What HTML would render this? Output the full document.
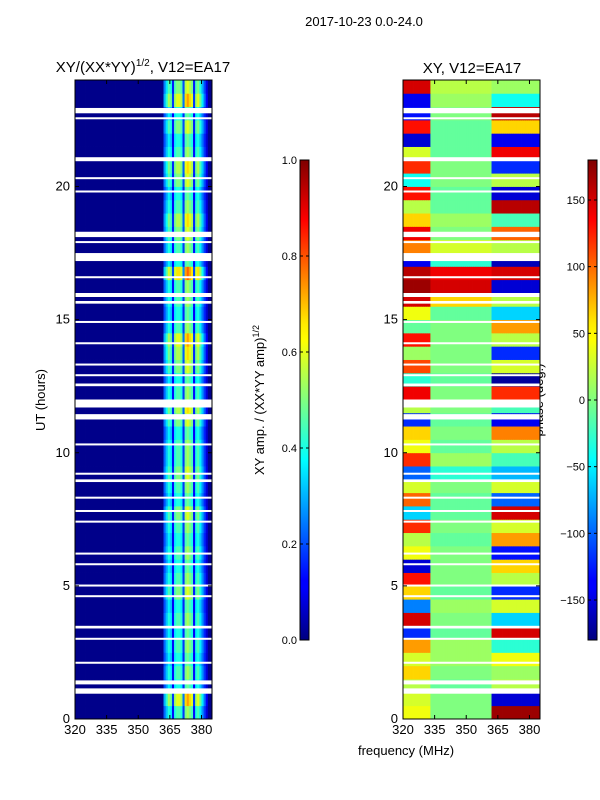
<!DOCTYPE html>
<html><head><meta charset="utf-8"><style>
body{margin:0;background:#fff;}
svg{display:block;font-family:"Liberation Sans",sans-serif;}
</style></head><body>
<svg id="fig" width="600" height="800" viewBox="0 0 600 800">
<defs>
<linearGradient id="jet" x1="0" y1="1" x2="0" y2="0">
<stop offset="0" stop-color="#00007f"/><stop offset="0.11" stop-color="#0000ff"/><stop offset="0.125" stop-color="#0000ff"/>
<stop offset="0.34" stop-color="#00dcff"/><stop offset="0.375" stop-color="#00ffff"/><stop offset="0.5" stop-color="#80ff80"/>
<stop offset="0.625" stop-color="#ffff00"/><stop offset="0.66" stop-color="#ffea00"/><stop offset="0.875" stop-color="#ff0000"/><stop offset="1" stop-color="#7f0000"/>
</linearGradient>
</defs>
<text x="364" y="26" font-size="13" text-anchor="middle">2017-10-23 0.0-24.0</text>
<text x="143" y="72" font-size="15" text-anchor="middle">XY/(XX*YY)<tspan font-size="10" dy="-6">1/2</tspan><tspan dy="6">, V12=EA17</tspan></text>
<text x="472" y="73" font-size="15" text-anchor="middle">XY, V12=EA17</text>
<text x="45" y="400" font-size="13" text-anchor="middle" transform="rotate(-90 45 400)">UT (hours)</text>
<text x="406" y="755" font-size="13" text-anchor="middle">frequency (MHz)</text>
<text x="264" y="400" font-size="13" text-anchor="middle" transform="rotate(-90 264 400)">XY amp. / (XX*YY amp)<tspan font-size="9" dy="-5">1/2</tspan></text>
<text x="543" y="400" font-size="13" text-anchor="middle" transform="rotate(-90 543 400)">phase (deg.)</text>
<g id="left"></g>
<g id="right"></g>
<g id="cb"></g>
</svg>
<script>
const hours = [0,5,10,15,20];
const freqTicks = [320,335,350,365,380];
const ampTicks = [0.0,0.2,0.4,0.6,0.8,1.0];
const phaseTicks = [-150,-100,-50,0,50,100,150];
const colAmp = {362:0.25,363:0.35,364:0.45,365:0.4,366:0.15,367:0.45,368:0.5,369:0.5,370:0.45,371:0.2,372:0.55,373:0.6,374:0.55,375:0.5,376:0.15,377:0.45,378:0.5,379:0.4,380:0.3,381:0.2,382:0.1};
const rowScale = [0.9,1.2,0.8,0.9,0.8,0.9,0.8,0.9,0.8,1.0,0.9,0.8,0.9,0.8,0.9,1.0,0.8,0.9,1.0,0.9,0.9,0.8,1.0,1.1,0.9,0.8,1.0,1.1,1.2,0.9,0.8,0.9,0.9,1.3,0.8,0.9,1.0,1.1,0.9,0.8,1.0,1.1,0.9,0.8,1.0,0.8,1.2,1.0];
const rowLeft = [40,30,20,60,30,80,-120,150,-90,60,130,-150,40,20,120,-60,100,30,-100,120,40,60,-120,20,140,-30,110,10,130,-10,40,150,170,160,-140,90,140,60,20,130,-40,120,30,-150,130,-130,-140,150];
const rowMid = [0,0,-10,0,10,10,-10,0,10,-10,0,0,0,-10,0,-10,-10,0,-30,10,-10,0,-10,0,0,-10,0,0,0,0,-10,60,150,140,-30,30,0,10,-10,-10,0,0,-10,-10,-10,0,10,20];
const rowRight = [170,-150,20,10,40,-30,150,-60,30,-120,20,60,-130,80,30,150,-100,30,-70,-20,20,90,-140,-20,120,-170,30,-120,20,80,-60,20,-150,150,-160,20,100,-20,160,-150,20,-120,140,-140,60,160,-40,10];
const gaps = [[22.75,22.95],[22.55,22.6],[20.95,21.1],[20.3,20.35],[19.8,19.85],[18.1,18.3],[17.9,17.95],[17.2,17.5],[16.6,16.63],[15.85,16.0],[15.6,15.7],[14.9,14.95],[14.1,14.15],[13.3,13.35],[12.9,12.95],[12.5,12.6],[11.7,12.0],[11.25,11.45],[10.3,10.35],[9.2,9.25],[8.9,9.0],[8.3,8.35],[7.8,7.85],[7.4,7.45],[6.2,6.25],[5.8,5.85],[5.0,5.05],[4.6,4.65],[3.4,3.5],[3.0,3.05],[2.1,2.15],[1.3,1.45],[0.95,1.15]];

const NS='http://www.w3.org/2000/svg';
function mk(tag,attrs,parent){const e=document.createElementNS(NS,tag);for(const k in attrs)e.setAttribute(k,attrs[k]);parent.appendChild(e);return e;}
function jet(v){v=Math.max(0,Math.min(1,v));
 const r=Math.max(0,Math.min(1,1.5-Math.abs(4*v-3))),g=Math.max(0,Math.min(1,1.5-Math.abs(4*v-2))),b=Math.max(0,Math.min(1,1.5-Math.abs(4*v-1)));
 return `rgb(${Math.round(r*255)},${Math.round(g*255)},${Math.round(b*255)})`;}
const Y0=719,Y1=80;
const yS=h=>Y0-(h/24)*(Y0-Y1);
function panel(g,x0,x1,valFn,name){
 const xS=f=>x0+(f-320)/(385-320)*(x1-x0);
 for(let r=0;r<48;r++){
  for(let f=320;f<385;f++){
   const el=mk('rect',{x:xS(f),y:yS((r+1)/2),width:xS(f+1)-xS(f)+0.4,height:yS(r/2)-yS((r+1)/2)+0.4,fill:jet(valFn(r,f))},g);
   
   
  }
 }
 for(const gp of gaps){
  const el=mk('rect',{x:x0,y:yS(gp[1]),width:x1-x0,height:Math.max(2,yS(gp[0])-yS(gp[1])),fill:'#fff'},g);
  
  
 }
 const fr=mk('rect',{x:x0,y:Y1,width:x1-x0,height:Y0-Y1,fill:'none',stroke:'#000','stroke-width':1},g);
 
 
 for(const h of hours){
  mk('line',{x1:x0,x2:x0+4,y1:yS(h),y2:yS(h),stroke:'#000'},g);
  mk('line',{x1:x1,x2:x1-4,y1:yS(h),y2:yS(h),stroke:'#000'},g);
  const t=mk('text',{x:x0-5,y:yS(h)+4,'font-size':13,'text-anchor':'end'},g);t.textContent=h;
  
  
 }
 for(const f of freqTicks){
  mk('line',{x1:xS(f),x2:xS(f),y1:Y0,y2:Y0-4,stroke:'#000'},g);
  mk('line',{x1:xS(f),x2:xS(f),y1:Y1,y2:Y1+4,stroke:'#000'},g);
  const t=mk('text',{x:xS(f),y:Y0+15,'font-size':13,'text-anchor':'middle'},g);t.textContent=f;
  
  
 }
}
panel(document.getElementById('left'),75,212,(r,f)=>{
 const a=colAmp[f]!==undefined?colAmp[f]:0.01;
 return f>=362&&f<=382?a*rowScale[r]:a;
},'amp');
panel(document.getElementById('right'),403,540,(r,f)=>{
 const p=f<333?rowLeft[r]:(f<362?rowMid[r]:rowRight[r]);
 return (p+180)/360;
},'phase');
function cbar(x,y0,y1,ticks,lo,hi,name,fmt){
 const g=document.getElementById('cb');
 const b=mk('rect',{x:x,y:y0,width:9,height:y1-y0,fill:'url(#jet)',stroke:'#000','stroke-width':1},g);
 
 
 for(const v of ticks){
  const y=y1-(v-lo)/(hi-lo)*(y1-y0);
  mk('line',{x1:x,x2:x+3,y1:y,y2:y,stroke:'#000'},g);
  mk('line',{x1:x+9,x2:x+6,y1:y,y2:y,stroke:'#000'},g);
  const t=mk('text',{x:x-3,y:y+4,'font-size':11,'text-anchor':'end'},g);t.textContent=fmt(v);
  
  
 }
}
cbar(300,160,640,ampTicks,0,1,'amp-colorbar',v=>v.toFixed(1));
cbar(588,160,640,phaseTicks,-180,180,'phase-colorbar',v=>v<0?'\u2212'+(-v):''+v);
</script>
</body></html>
